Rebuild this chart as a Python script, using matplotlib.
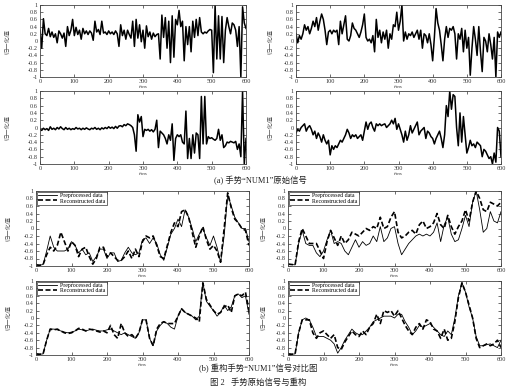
import numpy as np
import matplotlib
matplotlib.use('Agg')
import matplotlib.pyplot as plt

plt.rcParams['font.family'] = ['Liberation Serif', 'Noto Sans CJK SC']

# time axes (ms)
t_raw = np.arange(0, 601, 5)
t_rec = np.arange(0, 601, 10)

x_ticks = [0, 100, 200, 300, 400, 500, 600]
y_ticks = [-1, -0.8, -0.6, -0.4, -0.2, 0, 0.2, 0.4, 0.6, 0.8, 1]
y_tick_labels = ['-1', '-0.8', '-0.6', '-0.4', '-0.2', '0', '0.2', '0.4', '0.6', '0.8', '1']

# (a) raw signals, 4 channels
raw_1 = [0.30, -0.20, 0.62, 0.20, 0.15, 0.35, 0.12, 0.25, 0.10, 0.20,
         -0.05, 0.28, 0.20, 0.08, 0.22, -0.15, 0.40, 0.15, 0.30, 0.60,
         0.15, 0.38, 0.18, 0.30, 0.05, 0.35, 0.20, 0.28, 0.18, 0.28,
         0.22, 0.02, 0.55, 0.25, 0.32, 0.18, 0.55, 0.22, 0.25, 0.18,
         0.28, 0.20, 0.25, 0.18, 0.28, 0.20, -0.15, 0.45, 0.15, 0.30,
         0.05, 0.30, 0.18, 0.08, 0.55, -0.15, 0.60, 0.08, 0.45, -0.02,
         0.30, -0.20, 0.42, 0.12, 0.25, 0.05, 0.22, 0.12, 0.18, 0.20,
         -0.50, 0.72, 0.10, 0.65, -0.20, 0.55, -0.60, 0.70, -0.45, 0.60,
         0.45, 0.85, 0.40, 0.55, -0.55, 0.40, -0.10, 0.40, -0.30, 0.55,
         0.10, 0.60, 0.15, 0.65, 0.25, 0.20, 0.25, 0.22, 0.28, 0.32,
         0.30, -0.88, 1.00, -0.50, 0.70, -0.50, 0.68, -0.60, 0.30, 0.65,
         0.40, 0.20, 0.50, 0.45, 0.30, -0.15, 0.40, -1.00, 0.95, 0.50,
         0.35]
raw_2 = [0.20, -0.05, 0.15, 0.05, 0.20, 0.45, 0.30, 0.40, 0.20, 0.35,
         0.55, 0.40, 0.65, 0.30, 0.55, 0.75, 0.60, 0.30, -0.10, 0.25,
         0.30, 0.20, 0.30, 0.25, 0.30, -0.10, 0.55, 0.20, 0.45, 0.70,
         0.05, 0.00, 0.15, 0.50, 0.35, 0.30, 0.20, 0.10, 0.25, 0.45,
         0.75, 0.10, 0.00, 0.05, -0.05, 0.15, -0.30, 0.60, 0.10, 0.30,
         -0.05, 0.25, 0.05, 0.30, -0.20, 0.20, 0.05, 0.45, 0.40, 0.80,
         0.30, 0.55, 1.00, 0.00, 0.25, 0.05, 0.20, 0.15, 0.25, 0.10,
         0.20, 0.30, 0.05, 0.30, -0.20, 0.20, 0.15, -0.05, 0.20, -0.10,
         -0.55, 0.10, 0.90, 0.50, 0.30, -0.10, -0.55, 0.05, 0.40, 0.10,
         0.35, 0.30, 0.40, 0.20, -0.50, 0.20, 0.05, 0.35, -0.30, 0.30,
         -0.20, 0.10, -0.95, -0.20, 0.40, 0.05, -0.40, 0.40, -0.30, -0.85,
         0.10, 0.00, -0.30, 0.20, -0.10, -0.50, 0.10, -1.00, 0.25, 0.10,
         0.25]
raw_3 = [-0.05, -0.08, -0.02, -0.06, -0.03, -0.08, 0.02, -0.05, -0.02, -0.06,
         0.00, -0.04, 0.02, -0.03, -0.06, 0.00, -0.05, -0.02, -0.06, -0.03,
         -0.05, 0.00, -0.04, -0.02, -0.06, -0.02, -0.05, -0.01, -0.04, -0.06,
         -0.02, -0.04, 0.00, -0.05, -0.02, -0.06, -0.01, -0.04, 0.00, -0.03,
         0.02, -0.02, 0.01, -0.03, 0.03, -0.02, 0.04, 0.05, 0.02, 0.08,
         0.05, 0.10, 0.08, 0.05, 0.00, -0.20, -0.65, 0.35, 0.15, 0.30,
         -0.25, -0.05, -0.08, -0.05, -0.10, -0.06, -0.12, -0.05, 0.20, -0.55,
         -0.10, -0.15, -0.20, -0.30, -0.45, -0.20, -0.35, 0.10, -0.90, -0.30,
         -0.20, -0.25, -0.20, -0.40, -0.45, 0.45, -0.85, -0.30, -0.85, -0.20,
         -0.70, -0.15, -0.20, -0.85, 0.85, -0.45, 0.85, -0.45, -0.25, -0.30,
         -0.28, -0.32, -0.35, -0.30, -0.05, -0.35, -0.20, -0.55, -0.50, -0.40,
         -0.42, -0.38, -0.40, -0.42, -0.38, -0.60, -0.45, -0.80, 1.00, -1.00,
         -0.30]
raw_4 = [-0.15, -0.05, -0.10, 0.00, 0.05, 0.10, -0.10, 0.00, 0.05, -0.05,
         -0.20, -0.10, -0.30, -0.15, -0.25, -0.40, -0.20, -0.35, -0.45, -0.35,
         -0.75, -0.50, -0.60, -0.50, -0.55, -0.45, -0.35, -0.40, -0.30, -0.20,
         -0.05, -0.15, -0.30, -0.20, -0.25, -0.20, -0.30, -0.25, -0.20, -0.35,
         -0.10, 0.15, -0.05, 0.10, 0.15, 0.00, -0.10, 0.10, 0.05, 0.10,
         0.05, 0.08, 0.10, 0.00, 0.05, 0.10, 0.20, 0.10, 0.25, -0.05,
         0.10, -0.05, -0.20, -0.40, -0.10, -0.35, -0.20, 0.05, -0.15, -0.05,
         0.05, 0.15, -0.20, -0.10, -0.05, 0.00, -0.30, -0.10, -0.15, -0.25,
         -0.30, -0.45, -0.30, -0.20, -0.10, -0.30, -0.55, -0.20, 0.60, 0.30,
         1.00, 0.50, 0.90, 0.85, 0.00, -0.50, 0.40, -0.40, 0.30, -0.20,
         -0.70, -0.55, -0.35, -0.50, -0.45, -0.55, -0.40, -0.45, -0.50, -0.80,
         -0.60, -0.65, -0.75, -0.85, -0.80, -1.00, -0.70, -0.95, 0.00, -0.10,
         -0.80]

# (b) preprocessed vs reconstructed, 4 channels
pre_1 = [-0.97, -0.98, -0.96, -0.60, -0.20, -0.50, -0.60, -0.60, -0.60, -0.55,
         -0.35, -0.45, -0.65, -0.55, -0.70, -0.65, -0.88, -0.75, -0.55, -0.55,
         -0.80, -0.65, -0.65, -0.88, -0.85, -0.65, -0.50, -0.65, -0.70, -0.65,
         -0.30, -0.25, -0.40, -0.25, -0.40, -0.70, -0.85, -0.50, -0.15, 0.00,
         0.25, 0.05, 0.50, 0.30, 0.00, -0.35, -0.15, 0.00, -0.25, -0.45,
         -0.20, -0.50, -0.90, -0.20, 0.90, 0.60, 0.30, 0.15, 0.00, 0.00,
         -0.35]
rec_1 = [-0.97, -0.98, -0.96, -0.70, -0.50, -0.60, -0.45, -0.10, -0.35, -0.60,
         -0.35, -0.45, -0.75, -0.55, -0.50, -0.75, -0.95, -0.80, -0.50, -0.50,
         -0.75, -0.65, -0.75, -0.85, -0.85, -0.75, -0.60, -0.80, -0.55, -0.75,
         -0.35, -0.20, -0.25, -0.20, -0.45, -0.75, -0.80, -0.45, -0.10, 0.15,
         0.05, 0.45, 0.50, 0.30, -0.10, -0.50, -0.20, 0.05, -0.30, -0.55,
         -0.45, -0.60, -0.90, 0.00, 0.95, 0.55, 0.25, 0.15, 0.00, -0.05,
         -0.45]
pre_2 = [-0.95, -0.96, -0.97, -0.40, -0.05, -0.40, -0.45, -0.45, -0.65, -0.75,
         -0.60, -0.30, -0.05, -0.40, -0.35, -0.40, -0.60, -0.70, -0.50, -0.30,
         -0.50, -0.35, -0.45, -0.40, -0.20, -0.35, 0.05, -0.35, -0.25, 0.00,
         0.05, -0.40, -0.70, -0.55, -0.40, -0.30, -0.20, -0.15, -0.20, -0.15,
         -0.20, -0.10, 0.15, -0.35, 0.10, 0.30, -0.15, -0.35, -0.30, 0.00,
         0.35, 0.05, 0.70, 1.00, 0.50, -0.10, 0.00, 0.45, 0.20, 0.15,
         0.45]
rec_2 = [-0.95, -0.96, -0.97, -0.35, 0.00, -0.20, -0.40, -0.40, -0.40, -0.60,
         -0.80, -0.35, -0.05, -0.25, -0.45, -0.20, -0.40, -0.30, -0.10, -0.15,
         -0.20, -0.10, 0.00, -0.05, 0.05, 0.00, 0.30, 0.00, 0.05, 0.30,
         0.45, -0.10, -0.25, -0.20, -0.10, -0.05, -0.15, 0.10, 0.20, 0.00,
         0.05, 0.15, 0.40, 0.10, 0.00, 0.35, 0.05, -0.15, 0.05, 0.20,
         0.50, 0.20, 0.70, 1.00, 0.80, 0.50, 0.45, 0.70, 0.65, 0.60,
         0.70]
pre_3 = [-0.97, -0.98, -0.97, -0.60, -0.30, -0.30, -0.32, -0.35, -0.38, -0.40,
         -0.38, -0.35, -0.30, -0.32, -0.35, -0.32, -0.30, -0.33, -0.35, -0.35,
         -0.32, -0.30, -0.35, -0.40, -0.45, -0.40, -0.45, -0.50, -0.55, -0.40,
         -0.05, -0.05, -0.55, -0.75, -0.35, -0.20, -0.10, -0.15, -0.25, -0.30,
         0.05, 0.25, 0.15, 0.10, 0.05, -0.05, 0.05, 0.95, 0.45, 0.32,
         0.20, 0.05, 0.15, 0.35, 0.20, 0.30, 0.60, 0.65, 0.55, 0.60,
         0.10]
rec_3 = [-0.97, -0.98, -0.97, -0.60, -0.30, -0.32, -0.30, -0.35, -0.40, -0.42,
         -0.40, -0.35, -0.28, -0.30, -0.35, -0.30, -0.32, -0.35, -0.38, -0.35,
         -0.40, -0.20, -0.45, -0.55, -0.15, -0.40, -0.50, -0.45, -0.55, -0.40,
         -0.05, -0.05, -0.55, -0.75, -0.30, -0.15, -0.10, -0.15, -0.15, -0.15,
         0.05, 0.25, 0.15, 0.10, 0.05, 0.00, -0.10, 0.95, 0.50, 0.35,
         0.20, 0.10, 0.15, 0.30, 0.35, 0.15, 0.60, 0.65, 0.60, 0.70,
         0.20]
pre_4 = [-0.97, -0.98, -0.97, -0.40, -0.05, 0.00, -0.05, -0.25, -0.50, -0.50,
         -0.50, -0.55, -0.60, -0.70, -0.95, -0.80, -0.60, -0.45, -0.30, -0.40,
         -0.45, -0.45, -0.35, -0.25, -0.10, -0.05, 0.00, 0.05, 0.05, 0.05,
         0.00, 0.10, 0.10, -0.10, -0.25, -0.45, -0.35, -0.20, -0.25, -0.20,
         -0.15, -0.25, -0.35, -0.45, -0.50, -0.35, -0.45, 0.00, 0.60, 0.95,
         0.70, 0.30, 0.00, -0.50, -0.75, -0.75, -0.72, -0.70, -0.75, -0.80,
         -0.60]
rec_4 = [-0.97, -0.98, -0.97, -0.40, -0.05, -0.05, -0.05, -0.40, -0.55, -0.40,
         -0.35, -0.45, -0.55, -0.45, -0.80, -0.85, -0.65, -0.50, -0.35, -0.45,
         -0.50, -0.35, -0.45, -0.25, -0.15, 0.10, -0.15, 0.20, 0.15, 0.20,
         0.05, 0.20, 0.00, -0.20, -0.35, -0.45, -0.25, -0.15, -0.30, -0.05,
         -0.10, -0.30, -0.35, -0.55, -0.30, -0.60, -0.55, -0.10, 0.55, 0.95,
         0.70, 0.35, 0.00, -0.55, -0.80, -0.75, -0.70, -0.75, -0.70, -0.60,
         -0.80]

W, H = 520, 390


def make_axes(fig, box, ylab_x):
    # box in pixels: left, top, right, bottom
    x0, y0, x1, y1 = box
    ax = fig.add_axes([x0 / W, 1 - y1 / H, (x1 - x0) / W, (y1 - y0) / H])
    ax.set_xlim(0, 600)
    ax.set_ylim(-1, 1)
    ax.set_xticks(x_ticks)
    ax.set_yticks(y_ticks)
    ax.set_yticklabels(y_tick_labels)
    ax.tick_params(direction='in', top=True, right=True, labelsize=4.5,
                   length=2, width=0.5, pad=1.5, colors='#333333')
    for s in ax.spines.values():
        s.set_linewidth(0.6)
        s.set_color('#444444')
    ax.set_xlabel('t/ms', fontsize=3.8, labelpad=0.5, color='#333333', style='italic')
    ax.set_ylabel('归一化值', fontsize=4.5, color='#555555')
    ax.yaxis.set_label_coords((ylab_x - x0) / (x1 - x0), 0.5)
    return ax


def main():
    fig = plt.figure(figsize=(W / 100, H / 100), dpi=100)

    raw = [raw_1, raw_2, raw_3, raw_4]
    raw_boxes = [(40, 5, 246, 77), (296, 5, 501, 77),
                 (40, 91, 246, 164), (296, 91, 501, 164)]
    raw_ylab = [10, 273, 10, 273]
    for sig, box, yl in zip(raw, raw_boxes, raw_ylab):
        ax = make_axes(fig, box, yl)
        ax.plot(t_raw, sig, color='black', linewidth=1.1)

    pre = [pre_1, pre_2, pre_3, pre_4]
    rec = [rec_1, rec_2, rec_3, rec_4]
    rec_boxes = [(36, 191, 249, 266), (288, 191, 501, 266),
                 (36, 281, 249, 355), (288, 281, 501, 355)]
    rec_ylab = [11, 266, 11, 266]
    for p, r, box, yl in zip(pre, rec, rec_boxes, rec_ylab):
        ax = make_axes(fig, box, yl)
        ax.plot(t_rec, p, color='black', linewidth=0.6, label='Preprocessed data')
        ax.plot(t_rec, r, color='black', linewidth=1.2, dashes=(3, 1.5),
                label='Reconstructed data')
        leg = ax.legend(loc='upper left', fontsize=4.2, frameon=True, fancybox=False,
                        borderaxespad=0.15, borderpad=0.2, handlelength=3.2,
                        labelspacing=0.05, handletextpad=0.6)
        leg.get_frame().set_edgecolor('black')
        leg.get_frame().set_linewidth(0.5)

    fig.text(0.5, 1 - 181 / H, '(a) 手势“NUM1”原始信号', ha='center', va='center',
             fontsize=6, color='#222222')
    fig.text(0.497, 1 - 369 / H, '(b) 重构手势“NUM1”信号对比图', ha='center', va='center',
             fontsize=6, color='#222222')
    fig.text(0.497, 1 - 383 / H, '图 2   手势原始信号与重构', ha='center', va='center',
             fontsize=6, color='#222222')

    fig.savefig('out.png', dpi=100)
    plt.close()


if __name__ == '__main__':
    main()
